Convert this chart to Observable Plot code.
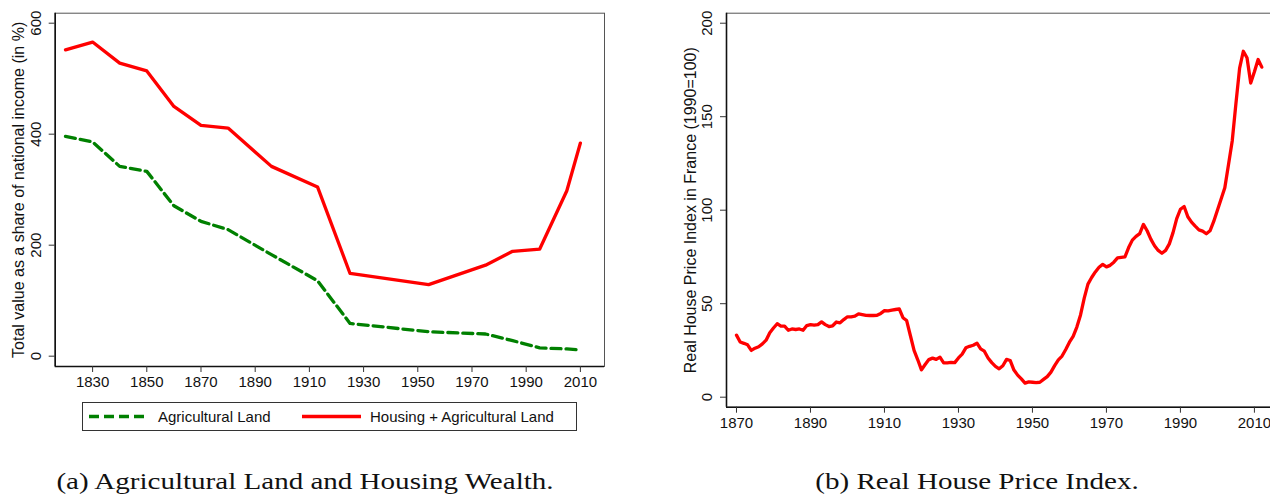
<!DOCTYPE html>
<html>
<head>
<meta charset="utf-8">
<script src="https://cdn.jsdelivr.net/npm/d3@7"></script>
<script src="https://cdn.jsdelivr.net/npm/@observablehq/plot@0.6"></script>
<style>
  html, body { margin: 0; padding: 0; background: #fff; }
  body { width: 1270px; height: 496px; position: relative; overflow: hidden; font-family: "Liberation Sans", Arial, sans-serif; }
  #left { position: absolute; left: 0; top: 0; width: 620px; height: 400px; }
  #right { position: absolute; left: 640px; top: 0; width: 630px; height: 440px; overflow: hidden; }
  #left svg, #right svg { max-width: none !important; display: block; }
  #legend { position: absolute; left: 82px; top: 402px; width: 493px; height: 27px; border: 1px solid #333; }
  #legend .sw { position: absolute; top: 0; height: 27px; }
  #legend .lab { position: absolute; top: 0; height: 27px; line-height: 27px; font-size: 15px; color: #111; white-space: nowrap; }
  .cap { position: absolute; top: 469px; height: 24px; line-height: 24px; font-family: "Liberation Serif", "Times New Roman", serif; font-size: 24px; color: #111; white-space: nowrap; transform: translateX(-50%) scaleX(1.21); }
</style>
</head>
<body>
<div id="left"></div>
<div id="right"></div>
<div id="legend"></div>
<div class="cap" id="capA" style="left:305px"></div>
<div class="cap" id="capB" style="left:977px"></div>
<script>
// ---------- Panel (a) data ----------
const landYears = [1820, 1830, 1840, 1850, 1860, 1870, 1880, 1896, 1913, 1925, 1954, 1975, 1985, 1995, 2005, 2010];
const agriculturalLand = [396, 386, 342, 333, 271, 243, 228, 183, 136, 59, 44, 40, 28, 15, 13, 11];
const housingPlusAgri = [552, 566, 528, 514, 450, 416, 411, 342, 305, 149, 129, 164, 189, 193, 298, 384];
const leftXTicks = [1830, 1850, 1870, 1890, 1910, 1930, 1950, 1970, 1990, 2010];
const leftYTicks = [0, 200, 400, 600];
const leftYTitle = "Total value as a share of national income (in %)";
const seriesNames = ["Agricultural Land", "Housing + Agricultural Land"];
const captionA = "(a) Agricultural Land and Housing Wealth.";

// ---------- Panel (b) data ----------
const priceFirstYear = 1870;
const priceIndex = [
  33.2, 29.5, 28.8, 28.0, 25.0, 26.2, 27.0, 28.5, 30.5, 34.5,   // 1870-1879
  37.0, 39.3, 38.0, 38.0, 35.8, 36.5, 36.2, 36.5, 35.8, 38.3,   // 1880-1889
  38.8, 38.5, 38.8, 40.3, 38.8, 37.8, 38.2, 40.2, 39.8, 41.5,   // 1890-1899
  43.0, 43.0, 43.3, 44.6, 44.2, 43.8, 43.7, 43.7, 43.8, 44.8,   // 1900-1909
  46.3, 46.2, 46.6, 46.9, 47.2, 42.5, 41.0, 33.0, 25.0, 20.0,   // 1910-1919
  14.6, 17.5, 20.1, 20.9, 20.2, 21.4, 18.4, 18.4, 18.6, 18.5,   // 1920-1929
  21.0, 23.0, 26.4, 27.2, 27.8, 28.9, 25.8, 24.6, 21.0, 18.5,   // 1930-1939
  16.5, 15.2, 16.8, 20.2, 19.6, 14.5, 11.8, 9.8, 7.5, 8.2,      // 1940-1949
  8.0, 7.8, 8.0, 9.5, 11.0, 13.4, 16.9, 20.0, 22.0, 25.5,       // 1950-1959
  29.4, 32.5, 37.5, 44.0, 53.0, 60.5, 64.0, 67.0, 69.5, 71.0,   // 1960-1969
  69.7, 70.5, 72.2, 74.5, 74.8, 75.0, 80.0, 84.0, 86.0, 87.5,   // 1970-1979
  92.4, 89.0, 84.5, 81.0, 78.5, 77.0, 78.5, 82.0, 88.0, 95.5,   // 1980-1989
  100.5, 102.0, 96.5, 93.6, 91.5, 89.5, 88.8, 87.4, 89.0, 94.0, // 1990-1999
  100.0, 106.0, 112.0, 124.5, 137.0, 157.0, 176.0, 185.0, 181.5, 168.0, // 2000-2009
  174.0, 180.6, 176.5                                             // 2010-2012
];
const rightXTicks = [1870, 1890, 1910, 1930, 1950, 1970, 1990, 2010];
const rightYTicks = [0, 50, 100, 150, 200];
const rightYTitle = "Real House Price Index in France (1990=100)";
const captionB = "(b) Real House Price Index.";

// ---------- colours ----------
const GREEN = "#008000";
const RED = "#ff0000";

const agriRows = landYears.map((year, i) => ({year, value: agriculturalLand[i]}));
const housingRows = landYears.map((year, i) => ({year, value: housingPlusAgri[i]}));
const priceRows = priceIndex.map((value, i) => ({year: priceFirstYear + i, value}));

const baseStyle = {fontFamily: "'Liberation Sans', Arial, sans-serif", fontSize: "15px", background: "#fff", color: "#111", overflow: "visible", maxWidth: "none"};

function panel({width, height, margins, xDomain, yDomain, xTicks, yTicks, yTitle, lines}) {
  return Plot.plot({
    width, height,
    marginLeft: margins[0], marginRight: margins[1], marginTop: margins[2], marginBottom: margins[3],
    style: baseStyle,
    x: {domain: xDomain, axis: null},
    y: {domain: yDomain, axis: null},
    marks: [
      ...lines,
      Plot.frame({stroke: "#555", strokeWidth: 1}),
      Plot.ruleX([xDomain[0]], {stroke: "#111", strokeWidth: 1.6}),
      Plot.ruleY([yDomain[0]], {stroke: "#111", strokeWidth: 1.6}),
      Plot.axisX(xTicks, {tickSize: 6, tickPadding: 4, fontSize: 15, label: null, tickFormat: d => String(d), stroke: "#333"}),
      Plot.axisY(yTicks, {tickSize: 6, tickFormat: () => "", label: null, stroke: "#333"}),
      Plot.text(yTicks, {y: d => d, text: d => String(d), frameAnchor: "left", dx: -14.5, rotate: -90, textAnchor: "middle", lineAnchor: "bottom", fontSize: 15, fill: "#111"}),
      Plot.text([yTitle], {text: d => d, frameAnchor: "left", dx: -36, rotate: -90, textAnchor: "middle", lineAnchor: "middle", fontSize: 16, fill: "#111"})
    ]
  });
}

const left = panel({
  width: 620, height: 400, margins: [54.7, 16, 12.7, 34],
  xDomain: [1816.2, 2018.9], yDomain: [-18.6, 618],
  xTicks: leftXTicks, yTicks: leftYTicks, yTitle: leftYTitle,
  lines: [
    Plot.line(agriRows, {x: "year", y: "value", stroke: GREEN, strokeWidth: 3.3, strokeDasharray: "10,5", strokeLinejoin: "round"}),
    Plot.line(housingRows, {x: "year", y: "value", stroke: RED, strokeWidth: 3.3, strokeLinejoin: "round"})
  ]
});
document.getElementById("left").appendChild(left);

const right = panel({
  width: 660, height: 440, margins: [86, 25, 12.7, 33.3],
  xDomain: [1867.3, 2015.7], yDomain: [-5.35, 205.35],
  xTicks: rightXTicks, yTicks: rightYTicks, yTitle: rightYTitle,
  lines: [
    Plot.line(priceRows, {x: "year", y: "value", stroke: RED, strokeWidth: 3.3, strokeLinejoin: "round"})
  ]
});
document.getElementById("right").appendChild(right);

// ---------- legend ----------
const legend = document.getElementById("legend");
const items = [
  {name: seriesNames[0], color: GREEN, dash: "10,5", sx: 6, tx: 75},
  {name: seriesNames[1], color: RED, dash: null, sx: 219, tx: 287}
];
for (const it of items) {
  const sw = document.createElementNS("http://www.w3.org/2000/svg", "svg");
  sw.setAttribute("class", "sw");
  sw.setAttribute("width", 60);
  sw.setAttribute("height", 27);
  sw.style.left = it.sx + "px";
  const ln = document.createElementNS("http://www.w3.org/2000/svg", "line");
  ln.setAttribute("x1", 0); ln.setAttribute("x2", 59);
  ln.setAttribute("y1", 13.5); ln.setAttribute("y2", 13.5);
  ln.setAttribute("stroke", it.color);
  ln.setAttribute("stroke-width", 3.5);
  if (it.dash) ln.setAttribute("stroke-dasharray", it.dash);
  sw.appendChild(ln);
  legend.appendChild(sw);
  const lab = document.createElement("div");
  lab.className = "lab";
  lab.style.left = it.tx + "px";
  lab.textContent = it.name;
  legend.appendChild(lab);
}

document.getElementById("capA").textContent = captionA;
document.getElementById("capB").textContent = captionB;
</script>
</body>
</html>
